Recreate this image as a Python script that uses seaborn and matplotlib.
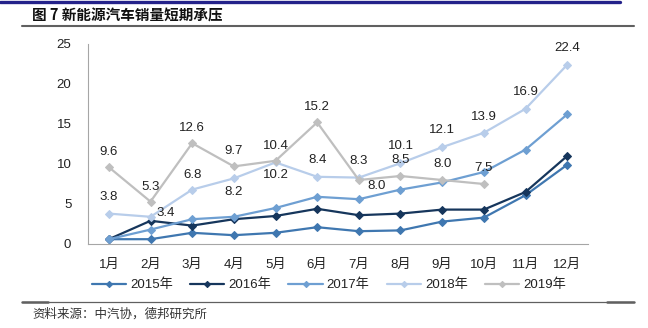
import matplotlib
matplotlib.use("Agg")
import matplotlib.pyplot as plt
from matplotlib.lines import Line2D
import seaborn as sns
import pandas as pd

months = ["1月", "2月", "3月", "4月", "5月", "6月", "7月", "8月", "9月", "10月", "11月", "12月"]
s2015 = [0.6, 0.6, 1.4, 1.1, 1.4, 2.1, 1.6, 1.7, 2.8, 3.3, 6.1, 9.9]
s2016 = [0.6, 2.9, 2.3, 3.1, 3.5, 4.4, 3.6, 3.8, 4.3, 4.3, 6.5, 11.0]
s2017 = [0.6, 1.8, 3.1, 3.4, 4.5, 5.9, 5.6, 6.8, 7.7, 9.0, 11.8, 16.2]
s2018 = [3.8, 3.4, 6.8, 8.2, 10.2, 8.4, 8.3, 10.1, 12.1, 13.9, 16.9, 22.4]
s2019 = [9.6, 5.3, 12.6, 9.7, 10.4, 15.2, 8.0, 8.5, 8.0, 7.5]
series_names = ["2015年", "2016年", "2017年", "2018年", "2019年"]
colors = ["#3F77B0", "#16365C", "#6E9FD2", "#B8CDEA", "#BFBFBF"]

sns.set_theme(style="white")
plt.rcParams['font.family'] = ['Liberation Sans', 'Noto Sans CJK SC', 'DejaVu Sans']

fig = plt.figure(figsize=(6.48, 3.28), dpi=100)
ax = fig.add_axes([88/648, 1-244/328, 500/648, 200/328])

all_series = [s2015, s2016, s2017, s2018, s2019]
for name, vals, col in zip(series_names, all_series, colors):
    df = pd.DataFrame({"month": months[:len(vals)], "value": vals})
    sns.lineplot(data=df, x="month", y="value", ax=ax, color=col, lw=1.6,
                 marker="D", markersize=4.5, markeredgecolor=col, label=name, sort=False)

ax.set_xlim(-0.5, 11.5)
ax.set_ylim(0, 25)
ax.set_yticks([0, 5, 10, 15, 20, 25])
ax.set_xticks(range(12))
ax.set_xticklabels(months)
ax.set_xticks([i - 0.5 for i in range(13)], minor=True)
ax.tick_params(axis="x", which="major", length=0, pad=11, labelsize=9.5, colors="#222222")
ax.tick_params(axis="x", which="minor", length=4, width=0.8, color="#A6A6A6", direction="out")
ax.tick_params(axis="y", length=0, pad=12, labelsize=9.5, colors="#222222")
ax.set_xlabel("")
ax.set_ylabel("")
for sp in ["top", "right"]:
    ax.spines[sp].set_visible(False)
for sp in ["left", "bottom"]:
    ax.spines[sp].set_color("#A6A6A6")
    ax.spines[sp].set_linewidth(0.8)

# data labels (pixel offsets)
off2019 = [(0, 15), (0, 15), (0, 15), (0, 15), (0, 15), (0, 15), (18, -6), (0, 16), (0, 16), (0, 16)]
off2018 = [(0, 17), (15, 4), (0, 15), (0, -14), (0, -13), (0, 17), (0, 17), (0, 17), (0, 17), (0, 16), (0, 17), (0, 17)]
for vals, offs in [(s2019, off2019), (s2018, off2018)]:
    for i, (v, o) in enumerate(zip(vals, offs)):
        ax.annotate(f"{v:.1f}", (i, v), xytext=o, textcoords="offset pixels",
                    ha="center", va="center", fontsize=9.5, color="#222222")

leg = ax.legend(loc="upper center", bbox_to_anchor=(0.482, -0.115), ncol=5, frameon=False,
                fontsize=9.5, handlelength=2.6, columnspacing=1.3, handletextpad=0.3,
                markerscale=0.7)
for t in leg.get_texts():
    t.set_color("#222222")

# title and decorations
fig.text(32/648, 1-16/328, "图 7 新能源汽车销量短期承压", fontsize=10.5, fontweight="bold",
         ha="left", va="center", color="#111111",
         family=['Noto Sans CJK SC', 'DejaVu Sans'])
fig.add_artist(Line2D([0, 620/648], [1-1.5/328, 1-1.5/328], color="#24228A", lw=2.4))
fig.add_artist(Line2D([22/648, 634/648], [1-26/328, 1-26/328], color="#606060", lw=1.5))
fig.add_artist(Line2D([22/648, 634/648], [1-302/328, 1-302/328], color="#606060", lw=0.9))
fig.add_artist(Line2D([22/648, 48/648], [1-301.5/328, 1-301.5/328], color="#606060", lw=1.8))
fig.add_artist(Line2D([607/648, 634/648], [1-301.5/328, 1-301.5/328], color="#606060", lw=1.8))
fig.text(32/648, 1-314/328, "资料来源：中汽协，德邦研究所", fontsize=9, ha="left", va="center",
         color="#333333", style="italic", family=['Noto Sans CJK SC', 'DejaVu Sans'])

fig.savefig("out.png", dpi=100)
